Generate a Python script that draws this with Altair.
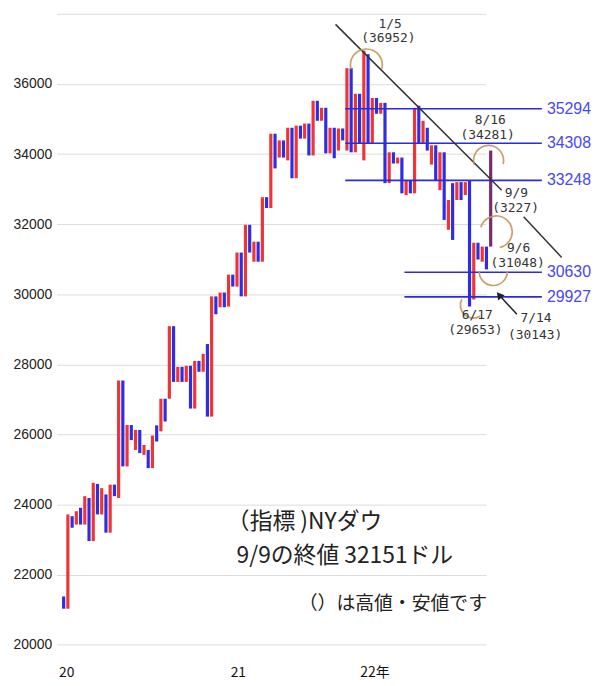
import altair as alt
import pandas as pd

# ---- three-line-break style columns (low, high, kind) ----
bar_lo = [21030, 21030, 23340, 23430, 23430, 23430, 22960, 22960, 23720, 23720,
          23200, 23200, 24240, 24190, 25090, 25090, 25840, 25560, 25470, 25420,
          25040, 25040, 25800, 26090, 26370, 27020, 27500, 27500, 27500, 27500,
          26740, 26740, 27790, 27790, 26510, 26510, 29430, 29630, 29630, 29650,
          30220, 30220, 29940, 29940, 31190, 30930, 30930, 30930, 32460, 32460,
          33590, 33900, 33900, 33820, 33310, 33310, 34440, 34440, 33960, 33960,
          34950, 34950, 34020, 34020, 33880, 34100, 34390, 34100, 34050, 34050,
          34300, 33820, 34300, 34300, 35150, 35150, 33170, 33170, 33730, 33730,
          32880, 32830, 32880, 32880, 34300, 34300, 34100, 33700, 33250, 32970,
          32120, 31840, 31550, 32690, 32690, 32830, 29650, 29850, 30990, 30930,
          30710, 31360]
bar_hi = [21380, 23720, 23670, 23810, 23910, 24240, 24190, 24620, 24590, 24470,
          24290, 24570, 24570, 27540, 27540, 26270, 26270, 26130, 26130, 25700,
          25560, 25970, 26260, 27020, 27020, 29090, 29090, 27930, 27930, 27960,
          27960, 28100, 28100, 28300, 28580, 29940, 29940, 30050, 30050, 30560,
          30560, 31190, 31190, 31980, 31980, 31500, 31500, 32770, 32770, 34580,
          34580, 34390, 34390, 34750, 34750, 34810, 34810, 34870, 34870, 35520,
          35520, 35320, 35320, 34750, 34750, 34730, 34730, 36450, 36450, 35720,
          35720, 36952, 36850, 35600, 35600, 35460, 35460, 34050, 34050, 33900,
          33900, 33250, 33250, 35320, 35380, 34950, 34750, 34250, 34250, 34050,
          34050, 32690, 33170, 33200, 33200, 33200, 33250, 31470, 31470, 31360,
          31360, 34100]
bar_kind = (["down", "up"] * 51)[:101] + ["last"]

# ---- reference levels ----
hl_vals = [35294, 34308, 33248, 30630, 29927]
hl_start = [67.6, 67.6, 67.6, 81.6, 81.6]
hl_end = [114.1] * 5
hl_label_x = [115.3] * 5

# ---- trend line (two pieces around the 9/9 label) ----
tl_x1 = [65.3, 109.8]
tl_x2 = [104.6, 118.8]
tl_y1 = [37700, 32210]
tl_y2 = [32970, 31050]

# ---- date / price annotations ----
ann_text = ["1/5", "(36952)", "8/16", "(34281)", "9/9", "(3227)", "9/6", "(31048)",
            "6/17", "(29653)", "7/14", "(30143)"]
ann_x = [78.2, 77.8, 101.9, 101.3, 108.1, 107.9, 108.6, 108.4, 98.8, 98.4, 112.7, 112.5]
ann_y = [37720, 37300, 34980, 34530, 32880, 32460, 31330, 30900, 29400, 28970, 29320, 28840]

# ---- circled highlights (centre, radius, start/end angle in radians) ----
arc_x = [72.6, 101.5, 103.3, 102.6, 97.9]
arc_y = [36540, 33820, 31780, 30650, 29690]
arc_r = [17, 16, 17, 15, 14]
arc_t1 = [4.45, 4.4, 5.0, 1.57, 2.6]
arc_t2 = [8.1, 8.1, 9.2, 4.75, 5.2]

# ---- arrow to 7/14 ----
arrow_x = [108.2, 104.0]
arrow_y = [29430, 29980]

# ---- titles ----
title_lines = ["（指標 )NYダウ", "9/9の終値 32151ドル", "（）は高値・安値です"]
title_x = [39.6, 41.9, 56.6]
title_y = [23500, 22530, 21150]
title_size = [23, 23, 19]

# ---- axes ----
y_ticks = [20000, 22000, 24000, 26000, 28000, 30000, 32000, 34000, 36000, 38000]
x_tick_pos = [1.6, 42.2, 74.5]
x_tick_lab = ["20", "21", "22年"]

X_DOM = [0.5, 99.7]
Y_DOM = [19700, 38000]
xs = alt.Scale(domain=X_DOM, nice=False, zero=False)
ys = alt.Scale(domain=Y_DOM, nice=False, zero=False)

expr = "''"
for p, l in reversed(list(zip(x_tick_pos, x_tick_lab))):
    expr = f"abs(datum.value - {p}) < 0.5 ? '{l}' : ({expr})"

XA = alt.Axis(values=x_tick_pos, labelExpr=expr, grid=False, domain=False,
              ticks=False, title=None, labelFontSize=14, labelColor="#111",
              labelPadding=10, labelFont="Noto Sans CJK JP")
YA = alt.Axis(values=y_ticks, format="d",
              labelExpr="datum.value >= 38000 ? '' : datum.label",
              grid=True, gridColor="#dcdcdc", domain=False, ticks=False,
              title=None, labelFontSize=14, labelColor="#222",
              labelPadding=5, labelFont="Liberation Sans")


def X(f):
    return alt.X(f, scale=xs, axis=XA)


def Y(f):
    return alt.Y(f, scale=ys, axis=YA)


bars = pd.DataFrame({"idx": list(range(1, len(bar_lo) + 1)), "lo": bar_lo,
                     "hi": bar_hi, "kind": bar_kind})

bar_layer = alt.Chart(bars).mark_bar(size=3.2).encode(
    x=X("idx:Q"), y=Y("lo:Q"), y2="hi:Q",
    color=alt.Color("kind:N", scale=alt.Scale(domain=["up", "down", "last"],
                                              range=["#ee3434", "#2e2ee0", "#7a2a6a"]),
                    legend=None),
)

hl_df = pd.DataFrame({"v": hl_vals, "x1": hl_start, "x2": hl_end,
                      "lx": hl_label_x, "lab": [str(v) for v in hl_vals]})
hl_layer = alt.Chart(hl_df).mark_rule(color="#2a2ae0", strokeWidth=1.6).encode(
    x=X("x1:Q"), x2="x2:Q", y=Y("v:Q"))
hl_text = alt.Chart(hl_df).mark_text(align="left", baseline="middle", fontSize=16,
                                     color="#4848f0", font="Liberation Sans").encode(
    x=X("lx:Q"), y=Y("v:Q"), text="lab:N")

tl_df = pd.DataFrame({"x1": tl_x1, "x2": tl_x2, "y1": tl_y1, "y2": tl_y2})
tl_layer = alt.Chart(tl_df).mark_rule(color="#333333", strokeWidth=1.5).encode(
    x=X("x1:Q"), x2="x2:Q", y=Y("y1:Q"), y2="y2:Q")

arc_layers = []
for ax, ay, r, t1, t2 in zip(arc_x, arc_y, arc_r, arc_t1, arc_t2):
    d = pd.DataFrame({"x": [ax], "y": [ay]})
    arc_layers.append(
        alt.Chart(d).mark_arc(radius=r, radius2=r - 1.7, theta=t1, theta2=t2,
                              color="#c4955a", opacity=0.9).encode(
            x=X("x:Q"), y=Y("y:Q")))

ar_df = pd.DataFrame({"x1": [arrow_x[0]], "x2": [arrow_x[1]],
                      "y1": [arrow_y[0]], "y2": [arrow_y[1]]})
arrow_line = alt.Chart(ar_df).mark_rule(color="#222", strokeWidth=1.5).encode(
    x=X("x1:Q"), x2="x2:Q", y=Y("y1:Q"), y2="y2:Q")
arrow_head = alt.Chart(ar_df).mark_point(shape="triangle-up", filled=True, size=70,
                                         angle=321, color="#222", opacity=1).encode(
    x=X("x2:Q"), y=Y("y2:Q"))

ann_df = pd.DataFrame({"t": ann_text, "x": ann_x, "y": ann_y})
ann_layer = alt.Chart(ann_df).mark_text(fontSize=13, color="#333",
                                        font="DejaVu Sans Mono",
                                        baseline="middle").encode(
    x=X("x:Q"), y=Y("y:Q"), text="t:N")

tt_df = pd.DataFrame({"t": title_lines, "x": title_x, "y": title_y, "s": title_size})
tt_layer = alt.Chart(tt_df).mark_text(align="left", baseline="middle", color="#222",
                                      font="Noto Sans CJK JP").encode(
    x=X("x:Q"), y=Y("y:Q"), text="t:N",
    size=alt.Size("s:Q", scale=None, legend=None))

chart = alt.layer(bar_layer, hl_layer, hl_text, tl_layer, *arc_layers, arrow_line,
                  arrow_head, ann_layer, tt_layer).properties(
    width=433, height=647,
    padding={"left": 5, "top": 3, "right": 0, "bottom": 0},
    background="white",
).configure_view(stroke=None)

chart.save("out.html", embed_options={"renderer": "svg", "actions": False})
